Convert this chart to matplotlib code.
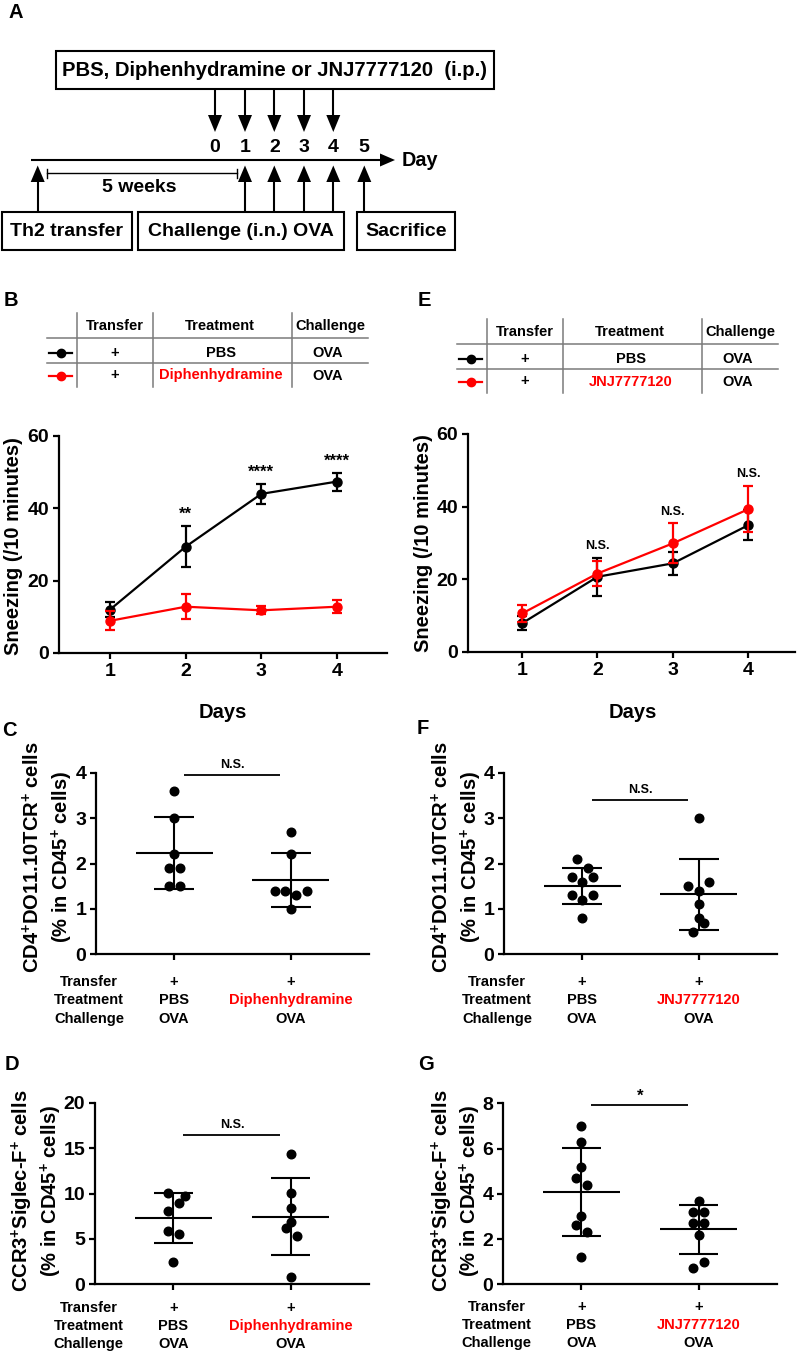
import numpy as np
import matplotlib
matplotlib.use('Agg')
import matplotlib.pyplot as plt
from matplotlib.patches import Rectangle, Polygon

plt.rcParams['font.family'] = ['Liberation Sans', 'DejaVu Sans']
plt.rcParams['font.weight'] = 'bold'
plt.rcParams['mathtext.fontset'] = 'custom'
plt.rcParams['mathtext.rm'] = 'Liberation Sans:bold'
plt.rcParams['mathtext.bf'] = 'Liberation Sans:bold'
plt.rcParams['mathtext.it'] = 'Liberation Sans:bold:italic'
plt.rcParams['mathtext.default'] = 'rm'

W, H = 800, 1352
RED = '#ff0000'

# ---------------- data ----------------
days = [1, 2, 3, 4]
b_pbs_mean = [12.0, 29.4, 44.0, 47.4]
b_pbs_err = [2.0, 5.7, 2.8, 2.5]
b_dph_mean = [8.9, 12.8, 11.8, 12.8]
b_dph_err = [2.6, 3.5, 1.1, 1.8]
b_sig = ['', '**', '****', '****']

e_pbs_mean = [7.9, 20.7, 24.4, 34.9]
e_pbs_err = [1.9, 5.3, 3.2, 4.1]
e_jnj_mean = [10.6, 21.6, 29.9, 39.3]
e_jnj_err = [2.3, 3.4, 5.5, 6.4]
e_sig = ['', 'N.S.', 'N.S.', 'N.S.']

c_pbs = [3.6, 3.0, 2.2, 1.9, 1.9, 1.5, 1.5]
c_dph = [2.7, 2.2, 1.4, 1.4, 1.3, 1.4, 1.0]
c_pbs_jit = [0, 0, 0, -0.043, 0.05, -0.043, 0.05]
c_dph_jit = [0, 0, -0.137, -0.051, 0.046, 0.142, 0]

d_pbs = [10.1, 9.7, 9.0, 8.1, 5.9, 5.5, 2.5]
d_dph = [14.4, 10.1, 8.4, 6.9, 6.2, 5.3, 0.85]
d_pbs_jit = [-0.043, 0.1, 0.051, -0.043, -0.043, 0.051, 0]
d_dph_jit = [0, 0, 0, 0, -0.043, 0.051, 0]

f_pbs = [2.1, 1.9, 1.7, 1.7, 1.6, 1.3, 1.3, 1.2, 0.8]
f_jnj = [3.0, 1.6, 1.5, 1.4, 1.1, 0.8, 0.7, 0.5]
f_pbs_jit = [-0.043, 0.051, -0.091, 0.094, 0, -0.091, 0.094, 0, 0]
f_jnj_jit = [0, 0.088, -0.097, 0, 0, 0, 0.043, -0.048]

g_pbs = [7.0, 6.3, 5.2, 4.7, 4.4, 3.0, 2.6, 2.3, 1.2]
g_jnj = [3.7, 3.2, 3.2, 2.7, 2.7, 2.2, 1.0, 0.7]
g_pbs_jit = [0, 0, 0, -0.048, 0.048, 0, -0.043, 0.048, 0]
g_jnj_jit = [0, -0.048, 0.043, -0.048, 0.043, 0, 0.043, -0.048]

row_labels = ['Transfer', 'Treatment', 'Challenge']
col_dph = ['+', 'Diphenhydramine', 'OVA']
col_jnj = ['+', 'JNJ7777120', 'OVA']
col_pbs = ['+', 'PBS', 'OVA']

# ---------------- figure ----------------
fig = plt.figure(figsize=(W / 100, H / 100), dpi=100)
ov = fig.add_axes([0, 0, 1, 1])
ov.set_xlim(0, W)
ov.set_ylim(H, 0)
ov.axis('off')


def px_axes(l, t, r, b):
    ax = fig.add_axes([l / W, 1 - b / H, (r - l) / W, (b - t) / H])
    ax.patch.set_visible(False)
    return ax


def style(ax):
    for s in ['top', 'right']:
        ax.spines[s].set_visible(False)
    for s in ['left', 'bottom']:
        ax.spines[s].set_linewidth(1.6)
    ax.tick_params(width=1.6, length=4.5, labelsize=14, pad=2.5, direction='out')


LW = 1.5
# ---------------- panel A ----------------
fig.text(16 / W, 1 - 12 / H, 'A', fontsize=14.5, ha='center', va='center')
ov.add_patch(Rectangle((56, 50.7), 438.3, 38.6, fill=False, lw=LW, ec='k'))
ov.text(275, 70.5, 'PBS, Diphenhydramine or JNJ7777120  (i.p.)', fontsize=14.6,
        ha='center', va='center')
down_x = [215, 245, 274.3, 304, 333.3]
for x in down_x:
    ov.plot([x, x], [89.3, 117], color='k', lw=LW, solid_capstyle='butt')
    ov.add_patch(Polygon([[x - 7, 115], [x + 7, 115], [x, 132]], closed=True, color='k', lw=0))
day_x = [215, 245, 274.3, 304, 333.3, 364.3]
for i, x in enumerate(day_x):
    ov.text(x, 147, str(i), fontsize=14, ha='center', va='center')
ov.plot([31, 382], [160, 160], color='k', lw=LW, solid_capstyle='butt')
ov.add_patch(Polygon([[380, 153.5], [380, 166.5], [395, 160]], closed=True, color='k', lw=0))
ov.text(402, 160.5, 'Day', fontsize=14.3, ha='left', va='center')
up_x = [37.7, 245, 274.3, 304, 333.3, 364.3]
for x in up_x:
    ov.plot([x, x], [180, 212], color='k', lw=LW, solid_capstyle='butt')
    ov.add_patch(Polygon([[x - 7, 182], [x + 7, 182], [x, 165.5]], closed=True, color='k', lw=0))
ov.plot([46.7, 237.3], [173.3, 173.3], color='k', lw=1.0)
ov.plot([46.7, 46.7], [169, 177.5], color='k', lw=1.0)
ov.plot([237.3, 237.3], [169, 177.5], color='k', lw=1.0)
ov.text(139, 187, '5 weeks', fontsize=14, ha='center', va='center')
for (x0, w, txt) in [(2, 130, 'Th2 transfer'), (138, 206, 'Challenge (i.n.) OVA'),
                     (357, 98, 'Sacrifice')]:
    ov.add_patch(Rectangle((x0, 212), w, 38, fill=False, lw=LW, ec='k'))
    ov.text(x0 + w / 2, 231.5, txt, fontsize=14, ha='center', va='center')


# ---------------- tables B / E ----------------
def draw_table(dx, dy, drug):
    gray = '#7a7a7a'
    for x in [77.3, 152.7, 291.7]:
        ov.plot([x + dx, x + dx], [313 + dy, 387 + dy], color=gray, lw=1.1)
    for y in [338.3, 363.3]:
        ov.plot([46.7 + dx, 368 + dx], [y + dy, y + dy], color=gray, lw=1.1)
    fs = 10.5
    ov.text(115 + dx, 325.7 + dy, 'Transfer', fontsize=fs, ha='center', va='center')
    ov.text(220 + dx, 325.7 + dy, 'Treatment', fontsize=fs, ha='center', va='center')
    ov.text(330 + dx, 325.7 + dy, 'Challenge', fontsize=fs, ha='center', va='center')
    for y, col, name in [(353.3, 'k', 'PBS'), (375.5, RED, drug)]:
        ov.plot([49 + dx, 72 + dx], [y + dy, y + dy], color=col, lw=1.6)
        ov.plot([60.7 + dx], [y + dy], 'o', color=col, ms=6)
        ov.text(115 + dx, y + dy, '+', fontsize=fs, ha='center', va='center')
        ov.text(221 + dx, y + dy, name, fontsize=fs, ha='center', va='center', color=col)
        ov.text(328 + dx, y + dy, 'OVA', fontsize=fs, ha='center', va='center')


fig.text(11 / W, 1 - 301 / H, 'B', fontsize=14.5, ha='center', va='center')
fig.text(424 / W, 1 - 300 / H, 'E', fontsize=14.5, ha='center', va='center')
draw_table(0, 0, 'Diphenhydramine')
draw_table(410, 6, 'JNJ7777120')


# ---------------- line plots ----------------
def line_plot(ax, m1, e1, m2, e2, sig, sig_fs):
    ax.errorbar(days, m1, yerr=e1, color='k', marker='o', ms=6.5, lw=1.6,
                capsize=3.5, capthick=1.6, elinewidth=1.6, zorder=3, clip_on=False)
    ax.errorbar(days, m2, yerr=e2, color=RED, marker='o', ms=6.5, lw=1.6,
                capsize=3.5, capthick=1.6, elinewidth=1.6, zorder=4, clip_on=False)
    ax.set_ylim(0, 60)
    ax.set_yticks([0, 20, 40, 60])
    ax.set_xticks(days)
    style(ax)
    for d, s, a, b, c, e in zip(days, sig, m1, e1, m2, e2):
        if s:
            top = max(a + b, c + e)
            ax.text(d, top + 3.2, s, fontsize=sig_fs, ha='center', va='center')


axB = px_axes(59, 436, 387, 653)
line_plot(axB, b_pbs_mean, b_pbs_err, b_dph_mean, b_dph_err, b_sig, 12)
axB.set_xlim(0.326, 4.66)
fig.text(14 / W, 1 - 546 / H, 'Sneezing (/10 minutes)', fontsize=14.5, rotation=90,
         ha='center', va='center')
fig.text(223 / W, 1 - 712 / H, 'Days', fontsize=14.5, ha='center', va='center')

axE = px_axes(468, 434, 795, 652)
line_plot(axE, e_pbs_mean, e_pbs_err, e_jnj_mean, e_jnj_err, e_sig, 9)
axE.set_xlim(0.283, 4.62)
fig.text(423 / W, 1 - 543 / H, 'Sneezing (/10 minutes)', fontsize=14.5, rotation=90,
         ha='center', va='center')
fig.text(633 / W, 1 - 712 / H, 'Days', fontsize=14.5, ha='center', va='center')


# ---------------- dot plots ----------------
def dot_plot(ax, groups, jits, ymax, yticks, sig_y, sig_txt, sig_fs, sig_off,
             drug_col, row_off):
    for i, (vals, jit) in enumerate(zip(groups, jits)):
        x = i + 1
        v = np.array(vals, dtype=float)
        m = v.mean()
        sd = v.std(ddof=1)
        ax.plot(x + np.array(jit), v, 'o', color='k', ms=6.2, zorder=3, clip_on=False)
        ax.hlines(m, x - 0.33, x + 0.33, color='k', lw=1.5)
        ax.hlines([m - sd, m + sd], x - 0.17, x + 0.17, color='k', lw=1.5)
        ax.vlines(x, m - sd, m + sd, color='k', lw=1.5)
    ax.hlines(sig_y, 1.08, 1.91, color='k', lw=1.3)
    ax.annotate(sig_txt, xy=(1.5, sig_y), xytext=(0, sig_off), textcoords='offset pixels',
                fontsize=sig_fs, ha='center', va='center')
    ax.set_xlim(0.33, 2.67)
    ax.set_ylim(0, ymax)
    ax.set_yticks(yticks)
    ax.set_xticks([1, 2])
    ax.set_xticklabels(['', ''])
    style(ax)
    fs = 10.5
    for r, lab in enumerate(row_labels):
        ax.annotate(lab, xy=(1, 0), xycoords=('data', 'axes fraction'),
                    xytext=(-85, -row_off[r]), textcoords='offset pixels',
                    fontsize=fs, ha='center', va='center', annotation_clip=False)
        ax.annotate(col_pbs[r], xy=(1, 0), xycoords=('data', 'axes fraction'),
                    xytext=(0, -row_off[r]), textcoords='offset pixels',
                    fontsize=fs, ha='center', va='center', annotation_clip=False)
        ax.annotate(drug_col[r], xy=(2, 0), xycoords=('data', 'axes fraction'),
                    xytext=(0, -row_off[r]), textcoords='offset pixels',
                    fontsize=fs, ha='center', va='center', annotation_clip=False,
                    color=RED if r == 1 else 'k')


cd4_l1 = r'CD4$^{+}$DO11.10TCR$^{+}$ cells'
cd45_l2 = r'(% in CD45$^{+}$ cells)'
ccr3_l1 = r'CCR3$^{+}$Siglec-F$^{+}$ cells'

# C
fig.text(9 / W, 1 - 731 / H, 'C', fontsize=14.5, ha='center', va='center')
axC = px_axes(96, 772.7, 369, 954.3)
dot_plot(axC, [c_pbs, c_dph], [c_pbs_jit, c_dph_jit], 4, [0, 1, 2, 3, 4], 3.95, 'N.S.', 9, 10,
         col_dph, [28, 46, 64.5])
fig.text(33 / W, 1 - 857 / H, cd4_l1, fontsize=14.5, rotation=90, ha='center', va='center')
fig.text(62 / W, 1 - 857 / H, cd45_l2, fontsize=14.5, rotation=90, ha='center', va='center')

# F
fig.text(423 / W, 1 - 729 / H, 'F', fontsize=14.5, ha='center', va='center')
axF = px_axes(504, 772.7, 777, 954.3)
dot_plot(axF, [f_pbs, f_jnj], [f_pbs_jit, f_jnj_jit], 4, [0, 1, 2, 3, 4], 3.39, 'N.S.', 9, 10,
         col_jnj, [28, 46, 64.5])
fig.text(442 / W, 1 - 857 / H, cd4_l1, fontsize=14.5, rotation=90, ha='center', va='center')
fig.text(471 / W, 1 - 857 / H, cd45_l2, fontsize=14.5, rotation=90, ha='center', va='center')

# D
fig.text(12 / W, 1 - 1064 / H, 'D', fontsize=14.5, ha='center', va='center')
axD = px_axes(95, 1102.7, 369, 1284.3)
dot_plot(axD, [d_pbs, d_dph], [d_pbs_jit, d_dph_jit], 20, [0, 5, 10, 15, 20], 16.4, 'N.S.', 9, 10,
         col_dph, [24, 42, 59.5])
fig.text(22 / W, 1 - 1191 / H, ccr3_l1, fontsize=14.5, rotation=90, ha='center', va='center')
fig.text(51 / W, 1 - 1191 / H, cd45_l2, fontsize=14.5, rotation=90, ha='center', va='center')

# G
fig.text(426 / W, 1 - 1064 / H, 'G', fontsize=14.5, ha='center', va='center')
axG = px_axes(503, 1103.3, 777, 1284.3)
dot_plot(axG, [g_pbs, g_jnj], [g_pbs_jit, g_jnj_jit], 8, [0, 2, 4, 6, 8], 7.93, '*', 12, 9,
         col_jnj, [23, 41, 58.5])
fig.text(442 / W, 1 - 1191 / H, ccr3_l1, fontsize=14.5, rotation=90, ha='center', va='center')
fig.text(470 / W, 1 - 1191 / H, cd45_l2, fontsize=14.5, rotation=90, ha='center', va='center')

fig.savefig('out.png', dpi=100)
